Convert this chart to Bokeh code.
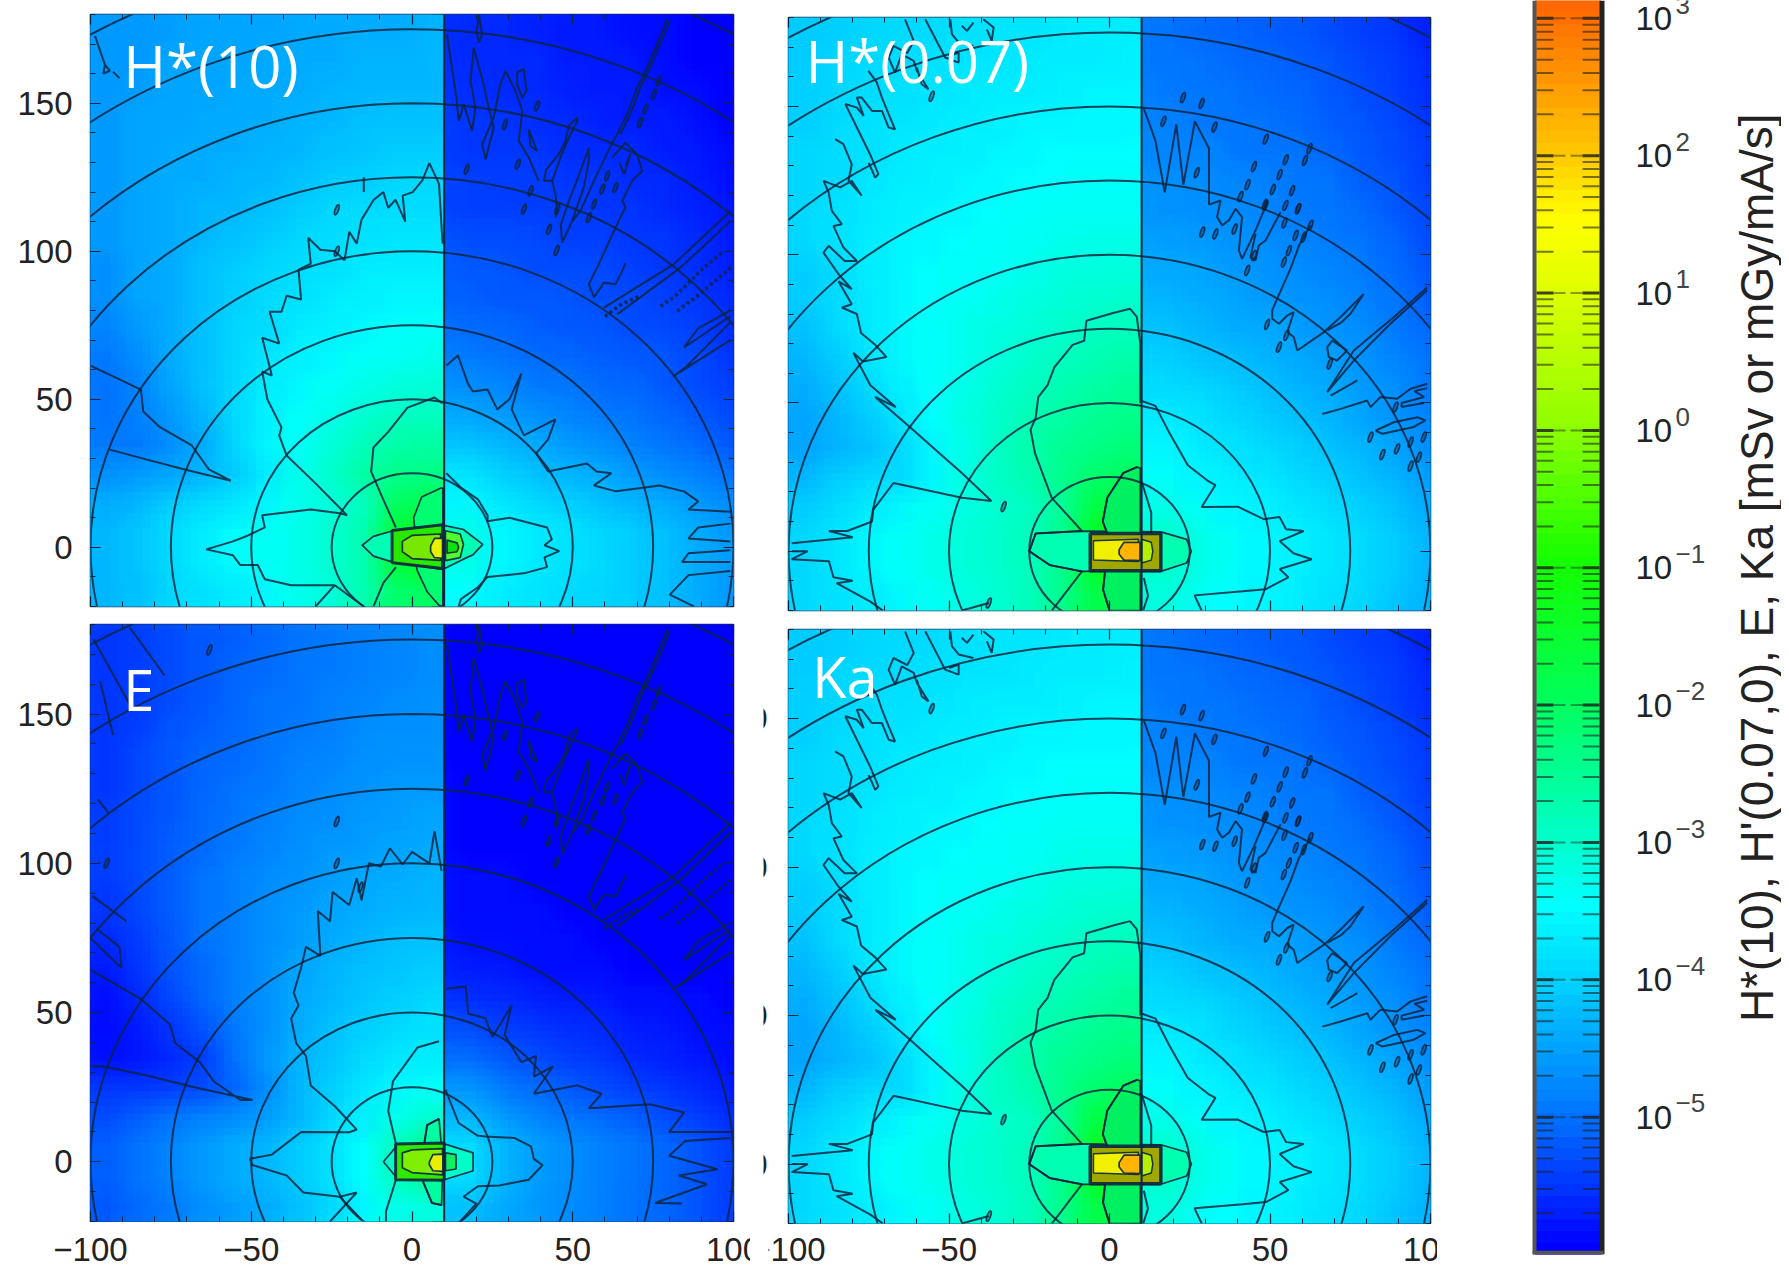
from bokeh.embed import file_html
from bokeh.resources import INLINE
from bokeh.plotting import figure
from bokeh.layouts import row, column
from bokeh.models import (Range1d, LinearAxis, FixedTicker, LinearColorMapper, ColumnDataSource,
                          PrintfTickFormatter, Spacer)
from bokeh.core.properties import value
import numpy as np

# ---- colour scale: anchors (log10 value, colour)
SCALE_LOG = [-6, -5, -4, -3.5, -3, -2, -1, 0, 1, 1.5, 2, 3, 3.13]
SCALE_RGB = [(0, 0, 255), (0, 120, 255), (0, 216, 255), (0, 255, 255), (0, 255, 200), (0, 255, 90),
             (20, 255, 0), (144, 255, 0), (224, 255, 0), (255, 255, 0), (255, 200, 0), (255, 110, 0), (255, 100, 0)]
BAR_DECADES = [3, 2, 1, 0, -1, -2, -3, -4, -5]
BAR_TITLE = "H*(10), H'(0.07,0), E, Ka [mSv or mGy/mA/s]"
RADII = [25, 50, 75, 100, 125, 150, 175, 200]
X_MAJOR = [-100, -50, 0, 50, 100]
X_LABELS = ["\u2212100", "\u221250", "0", "50", "100"]
Y_MAJOR = [0, 50, 100, 150]
X_MINOR = list(range(-100, 101, 10))
Y_MINOR = list(range(-20, 181, 10))

# ---- log10 field; rows y=175...-15, columns x=-95...5 (left of x=10)
H10_LEFT = [
 [-4.6,-4.6,-4.55,-4.5,-4.5,-4.5,-4.45,-4.4,-4.4,-4.4,-4.35],
 [-4.6,-4.6,-4.5,-4.5,-4.5,-4.45,-4.4,-4.4,-4.35,-4.35,-4.3],
 [-4.6,-4.55,-4.5,-4.5,-4.45,-4.4,-4.4,-4.35,-4.3,-4.3,-4.3],
 [-4.6,-4.5,-4.5,-4.45,-4.4,-4.4,-4.35,-4.3,-4.25,-4.2,-4.2],
 [-4.6,-4.5,-4.45,-4.4,-4.4,-4.35,-4.3,-4.2,-4.15,-4.1,-4.1],
 [-4.6,-4.5,-4.4,-4.4,-4.3,-4.3,-4.2,-4.1,-4.05,-4.0,-4.0],
 [-4.6,-4.5,-4.4,-4.3,-4.3,-4.2,-4.1,-4.0,-3.95,-3.9,-3.9],
 [-4.6,-4.5,-4.4,-4.3,-4.2,-4.1,-4.0,-3.9,-3.85,-3.8,-3.8],
 [-4.7,-4.5,-4.4,-4.2,-4.1,-4.0,-3.9,-3.85,-3.75,-3.7,-3.7],
 [-4.7,-4.5,-4.4,-4.2,-4.05,-3.95,-3.85,-3.75,-3.65,-3.6,-3.6],
 [-4.8,-4.6,-4.4,-4.2,-4.0,-3.9,-3.75,-3.65,-3.55,-3.5,-3.45],
 [-4.9,-4.7,-4.4,-4.2,-4.0,-3.8,-3.65,-3.55,-3.45,-3.4,-3.35],
 [-5.0,-4.8,-4.5,-4.2,-3.95,-3.7,-3.55,-3.45,-3.3,-3.2,-3.15],
 [-5.0,-4.85,-4.6,-4.3,-3.9,-3.65,-3.45,-3.3,-3.1,-3.0,-2.95],
 [-4.9,-4.9,-4.7,-4.4,-4.0,-3.6,-3.4,-3.15,-2.9,-2.75,-2.7],
 [-4.7,-4.6,-4.5,-4.3,-4.1,-3.7,-3.35,-3.05,-2.7,-2.45,-2.4],
 [-4.4,-4.3,-4.1,-3.95,-3.8,-3.6,-3.35,-3.15,-2.9,-2.1,-1.9],
 [-4.3,-4.15,-3.9,-3.7,-3.5,-3.4,-3.3,-3.1,-2.8,-1.7,-1.2],
 [-4.3,-4.15,-3.9,-3.7,-3.5,-3.4,-3.3,-3.1,-2.8,-1.7,-1.3],
 [-4.3,-4.2,-4.0,-3.85,-3.7,-3.55,-3.35,-3.15,-2.8,-2.2,-2.1],
]
# rows y=175...-15, columns x=15...95 (right of x=10)
H10_RIGHT = [
 [-5.6,-5.6,-5.65,-5.7,-5.75,-5.8,-5.85,-5.9,-5.95],
 [-5.6,-5.6,-5.6,-5.7,-5.7,-5.75,-5.85,-5.9,-5.95],
 [-5.55,-5.6,-5.6,-5.65,-5.7,-5.7,-5.8,-5.85,-5.9],
 [-5.5,-5.5,-5.55,-5.6,-5.65,-5.7,-5.7,-5.8,-5.9],
 [-5.5,-5.5,-5.5,-5.55,-5.6,-5.6,-5.7,-5.75,-5.85],
 [-5.4,-5.45,-5.45,-5.5,-5.5,-5.6,-5.6,-5.7,-5.8],
 [-5.4,-5.4,-5.4,-5.45,-5.5,-5.5,-5.6,-5.65,-5.75],
 [-5.3,-5.3,-5.35,-5.4,-5.4,-5.5,-5.5,-5.6,-5.7],
 [-5.2,-5.25,-5.3,-5.3,-5.35,-5.4,-5.5,-5.55,-5.65],
 [-5.15,-5.2,-5.2,-5.25,-5.3,-5.35,-5.4,-5.5,-5.6],
 [-5.05,-5.1,-5.15,-5.2,-5.25,-5.3,-5.35,-5.4,-5.55],
 [-4.9,-5.0,-5.05,-5.1,-5.15,-5.2,-5.25,-5.35,-5.5],
 [-4.75,-4.8,-4.9,-4.95,-5.05,-5.1,-5.2,-5.3,-5.4],
 [-4.5,-4.6,-4.7,-4.8,-4.9,-5.0,-5.1,-5.2,-5.3],
 [-4.2,-4.3,-4.45,-4.6,-4.7,-4.85,-4.95,-5.05,-5.2],
 [-3.85,-4.05,-4.2,-4.35,-4.45,-4.6,-4.75,-4.85,-5.0],
 [-3.6,-3.8,-3.95,-4.05,-4.2,-4.3,-4.45,-4.6,-4.75],
 [-3.3,-3.55,-3.75,-3.85,-4.0,-4.1,-4.25,-4.4,-4.6],
 [-3.3,-3.55,-3.75,-3.85,-3.95,-4.1,-4.2,-4.4,-4.55],
 [-3.5,-3.7,-3.8,-3.9,-4.0,-4.1,-4.25,-4.4,-4.6],
]
H007_LEFT = [
 [-4.1,-4.05,-4.0,-3.95,-3.9,-3.85,-3.8,-3.8,-3.75,-3.7,-3.7],
 [-4.1,-4.0,-3.95,-3.9,-3.85,-3.8,-3.8,-3.75,-3.7,-3.7,-3.65],
 [-4.05,-4.0,-3.9,-3.85,-3.8,-3.75,-3.7,-3.7,-3.65,-3.6,-3.6],
 [-4.05,-3.95,-3.85,-3.8,-3.75,-3.7,-3.65,-3.6,-3.6,-3.55,-3.55],
 [-4.0,-3.9,-3.85,-3.75,-3.7,-3.65,-3.6,-3.55,-3.5,-3.5,-3.5],
 [-4.0,-3.9,-3.8,-3.7,-3.65,-3.6,-3.55,-3.5,-3.5,-3.45,-3.45],
 [-4.0,-3.85,-3.75,-3.65,-3.6,-3.55,-3.5,-3.45,-3.4,-3.4,-3.4],
 [-4.0,-3.85,-3.7,-3.6,-3.55,-3.5,-3.45,-3.4,-3.35,-3.3,-3.3],
 [-4.05,-3.9,-3.7,-3.6,-3.5,-3.45,-3.4,-3.35,-3.25,-3.2,-3.2],
 [-4.1,-3.9,-3.75,-3.6,-3.5,-3.4,-3.35,-3.25,-3.15,-3.1,-3.05],
 [-4.2,-3.95,-3.75,-3.6,-3.45,-3.35,-3.25,-3.15,-3.05,-2.95,-2.9],
 [-4.3,-4.1,-3.8,-3.6,-3.45,-3.35,-3.2,-3.05,-2.95,-2.85,-2.75],
 [-4.4,-4.2,-3.95,-3.65,-3.5,-3.3,-3.1,-2.95,-2.8,-2.7,-2.6],
 [-4.5,-4.3,-4.1,-3.8,-3.5,-3.25,-3.05,-2.85,-2.65,-2.55,-2.45],
 [-4.5,-4.35,-4.2,-3.95,-3.6,-3.3,-3.0,-2.75,-2.55,-2.4,-2.3],
 [-4.3,-4.1,-4.0,-3.95,-3.6,-3.25,-3.0,-2.8,-2.5,-2.2,-2.05],
 [-4.1,-3.9,-3.75,-3.6,-3.4,-3.25,-3.1,-2.95,-2.6,-1.85,-1.65],
 [-4.0,-3.8,-3.6,-3.45,-3.3,-3.15,-3.05,-2.9,-2.5,-1.5,-1.0],
 [-4.0,-3.8,-3.6,-3.45,-3.3,-3.15,-3.05,-2.9,-2.5,-1.5,-1.1],
 [-4.0,-3.85,-3.7,-3.55,-3.4,-3.25,-3.1,-2.9,-2.5,-1.9,-1.7],
]
H007_RIGHT = [
 [-5.0,-5.05,-5.1,-5.15,-5.2,-5.3,-5.4,-5.5,-5.65],
 [-4.95,-5.0,-5.05,-5.1,-5.15,-5.25,-5.35,-5.45,-5.6],
 [-4.9,-4.95,-5.0,-5.05,-5.1,-5.2,-5.3,-5.4,-5.55],
 [-4.85,-4.9,-4.95,-5.0,-5.05,-5.15,-5.25,-5.35,-5.5],
 [-4.8,-4.8,-4.9,-4.95,-5.0,-5.1,-5.2,-5.3,-5.45],
 [-4.7,-4.75,-4.8,-4.85,-4.95,-5.0,-5.15,-5.25,-5.4],
 [-4.65,-4.7,-4.75,-4.8,-4.9,-4.95,-5.05,-5.2,-5.35],
 [-4.55,-4.6,-4.65,-4.75,-4.8,-4.9,-5.0,-5.1,-5.3],
 [-4.45,-4.5,-4.6,-4.65,-4.75,-4.8,-4.9,-5.05,-5.2],
 [-4.35,-4.4,-4.5,-4.6,-4.65,-4.75,-4.85,-4.95,-5.15],
 [-4.2,-4.3,-4.4,-4.45,-4.55,-4.65,-4.75,-4.9,-5.05],
 [-4.05,-4.15,-4.25,-4.35,-4.45,-4.55,-4.65,-4.8,-5.0],
 [-3.9,-4.0,-4.1,-4.2,-4.35,-4.45,-4.6,-4.7,-4.9],
 [-3.75,-3.85,-4.0,-4.1,-4.2,-4.35,-4.5,-4.65,-4.8],
 [-3.6,-3.75,-3.85,-3.95,-4.05,-4.2,-4.35,-4.5,-4.7],
 [-3.45,-3.6,-3.7,-3.8,-3.95,-4.05,-4.2,-4.35,-4.55],
 [-3.3,-3.45,-3.55,-3.65,-3.8,-3.9,-4.05,-4.2,-4.4],
 [-3.05,-3.3,-3.45,-3.55,-3.65,-3.8,-3.95,-4.1,-4.3],
 [-3.05,-3.3,-3.45,-3.55,-3.65,-3.8,-3.95,-4.1,-4.3],
 [-3.2,-3.4,-3.5,-3.6,-3.7,-3.85,-4.0,-4.15,-4.35],
]
E_LEFT = [
 [-5.5,-5.4,-5.3,-5.2,-5.15,-5.05,-5.0,-4.9,-4.85,-4.8,-4.75],
 [-5.5,-5.4,-5.3,-5.2,-5.1,-5.05,-4.95,-4.9,-4.85,-4.8,-4.75],
 [-5.5,-5.4,-5.3,-5.2,-5.1,-5.0,-4.95,-4.85,-4.8,-4.75,-4.7],
 [-5.5,-5.4,-5.25,-5.15,-5.05,-5.0,-4.9,-4.85,-4.75,-4.7,-4.7],
 [-5.5,-5.35,-5.2,-5.1,-5.05,-4.95,-4.85,-4.8,-4.7,-4.65,-4.65],
 [-5.5,-5.35,-5.2,-5.1,-5.0,-4.9,-4.8,-4.75,-4.65,-4.6,-4.6],
 [-5.45,-5.3,-5.2,-5.05,-4.95,-4.85,-4.75,-4.7,-4.6,-4.55,-4.5],
 [-5.4,-5.3,-5.15,-5.05,-4.9,-4.8,-4.7,-4.6,-4.55,-4.5,-4.45],
 [-5.45,-5.3,-5.15,-5.0,-4.85,-4.75,-4.65,-4.55,-4.45,-4.4,-4.35],
 [-5.5,-5.35,-5.15,-5.0,-4.85,-4.7,-4.6,-4.5,-4.4,-4.35,-4.3],
 [-5.6,-5.4,-5.2,-5.0,-4.85,-4.7,-4.55,-4.45,-4.35,-4.25,-4.2],
 [-5.7,-5.5,-5.25,-5.05,-4.85,-4.65,-4.5,-4.35,-4.25,-4.15,-4.1],
 [-5.8,-5.6,-5.35,-5.1,-4.85,-4.65,-4.45,-4.3,-4.15,-4.05,-4.0],
 [-5.85,-5.7,-5.5,-5.25,-4.9,-4.65,-4.4,-4.2,-4.05,-3.95,-3.85],
 [-5.8,-5.75,-5.6,-5.4,-5.0,-4.6,-4.35,-4.15,-3.95,-3.8,-3.7],
 [-5.5,-5.5,-5.4,-5.3,-5.1,-4.7,-4.3,-4.05,-3.8,-3.6,-3.45],
 [-5.3,-5.15,-5.0,-4.85,-4.75,-4.55,-4.3,-4.0,-3.65,-3.35,-3.1],
 [-5.15,-5.0,-4.8,-4.6,-4.4,-4.3,-4.1,-3.85,-3.5,-2.9,-2.4],
 [-5.15,-5.0,-4.8,-4.6,-4.4,-4.3,-4.1,-3.85,-3.5,-2.9,-2.5],
 [-5.2,-5.05,-4.9,-4.7,-4.55,-4.4,-4.2,-3.95,-3.6,-3.3,-3.2],
]
E_RIGHT = [
 [-5.95,-5.95,-5.95,-5.95,-5.95,-5.95,-6.0,-6.0,-6.0],
 [-5.95,-5.95,-5.95,-5.95,-5.95,-5.95,-6.0,-6.0,-6.0],
 [-5.95,-5.95,-5.95,-5.95,-5.95,-5.95,-5.95,-6.0,-6.0],
 [-5.95,-5.95,-5.95,-5.95,-5.95,-5.95,-5.95,-6.0,-6.0],
 [-5.95,-5.95,-5.95,-5.95,-5.95,-5.95,-5.95,-6.0,-6.0],
 [-5.9,-5.95,-5.95,-5.95,-5.95,-5.95,-5.95,-5.95,-6.0],
 [-5.9,-5.9,-5.95,-5.95,-5.95,-5.95,-5.95,-5.95,-6.0],
 [-5.9,-5.9,-5.9,-5.95,-5.95,-5.95,-5.95,-5.95,-6.0],
 [-5.85,-5.85,-5.9,-5.9,-5.95,-5.95,-5.95,-5.95,-6.0],
 [-5.85,-5.85,-5.85,-5.9,-5.9,-5.95,-5.95,-5.95,-5.95],
 [-5.8,-5.8,-5.85,-5.85,-5.9,-5.9,-5.95,-5.95,-5.95],
 [-5.7,-5.75,-5.8,-5.85,-5.85,-5.9,-5.9,-5.95,-5.95],
 [-5.55,-5.6,-5.65,-5.7,-5.75,-5.8,-5.8,-5.85,-5.9],
 [-5.3,-5.4,-5.5,-5.55,-5.6,-5.7,-5.75,-5.8,-5.85],
 [-5.05,-5.2,-5.3,-5.4,-5.5,-5.6,-5.65,-5.75,-5.8],
 [-4.65,-4.9,-5.05,-5.2,-5.3,-5.4,-5.5,-5.6,-5.7],
 [-4.3,-4.6,-4.8,-4.95,-5.05,-5.15,-5.3,-5.4,-5.55],
 [-3.95,-4.3,-4.55,-4.7,-4.85,-4.95,-5.1,-5.25,-5.4],
 [-3.95,-4.3,-4.55,-4.7,-4.85,-4.95,-5.1,-5.25,-5.4],
 [-4.2,-4.45,-4.6,-4.75,-4.85,-5.0,-5.1,-5.25,-5.4],
]

# ---- contour lines (x, y in cm)
H10_CONTOURS = [
 [(9.5,102.6),(8.4,122.8),(5.4,129.8),(3.2,124),(0.2,120),(-2.9,118.8),(-2.1,110),(-5.1,117.4),(-7.4,114.7),(-8.9,120),(-11.9,117.4),(-15.7,110.7),(-17.2,102.6),(-19.5,106.6),(-21,97),(-24,100),(-28.5,100.5),(-32.3,104.6),(-31.5,95.8),(-35.3,93.8),(-34.5,83.7),(-39,85),(-40.6,79.6),(-44.3,79.6),(-41.3,68.8),(-46.6,70.8),(-43.6,58),(-46.6,59.4),(-45,50),(-40.6,40.5),(-41.3,37.8),(-39,31),(-30,21.6),(-20.2,10.8),(-22.5,11.5),(-31.5,12.8),(-46.6,10.8),(-45.8,6.7),(-51,4),(-55.7,2),(-64,-0.7),(-55.7,-2.7),(-53.4,-6),(-48,-6),(-45.8,-10.8),(-37.6,-12.8),(-24,-12.8),(-30,-20)],
 [(9.5,48.6),(7,50.6),(-1.4,47.2),(-7.4,39),(-12,33.7),(-12.7,25.6),(-8.9,16),(-5,6.7)],
 [(-5,-6.7),(-8.9,-12),(-12,-20)],
 [(-24,-12.8),(-15,-20)],
 [(10.7,25),(15.2,20.2),(20.5,16.2),(23.5,10.8),(23.5,8.8),(30.3,10),(42,6.7),(43.5,2.7),(41.2,0.7),(45.8,-1.3),(41.2,-3.4),(42,-6.7),(34.8,-8.8),(23.5,-10),(20.5,-13.5),(15.2,-17.5),(14.5,-20)],
 [(10.7,61.4),(14.3,64.8),(17.4,55.3),(18.9,52.6),(23.5,53.3),(26.5,46.6),(30.3,50),(34,58.7),(31,46.6),(34.8,37.8),(44.6,43.2),(42.3,36.4),(38.6,31.7),(42.3,25.6),(54.4,28.3),(57.4,25.6),(62,25),(56.6,20.9),(63.5,18.9),(77,20.9),(84.6,18.9),(89,15.5),(86,12.8),(99,12)],
 [(99,8),(89,6.7),(86,3),(99,2)],
 [(99,-1),(86,-2),(84,-5),(99,-5)],
 [(99,-8),(86,-9.4),(80.2,-16),(87.7,-20)],
 [(-100,61.4),(-84.3,53.3),(-83.6,45.9),(-78.3,40.5),(-68.5,34.4),(-63.2,26.3),(-56.4,22.5),(-70.7,26.3),(-82.7,29.7),(-94,33)],
 [(-98.6,172.8),(-95.5,163),(-94,161),(-96,160),(-95.5,163)],
 [(-93,160.7),(-91,158.5)],
 [(-15,125),(-15,120)],
]
H10_UPPER_RIGHT = [
 [(10.9,173.3),(13.5,154.2),(14.6,144),(16.1,149.7),(18.7,140.7),(19.7,148.5),(18.2,157.5),(19.2,168.8),(22.3,156.4),(22.9,153),(25.4,141.8),(22.9,131.1),(21.8,136.2),(25.4,145.2),(27.5,156.4),(29.1,160.9),(32.2,154.2),(34.3,147.4),(33.2,137.3),(36.3,131.7),(39.4,123.8)],
 [(20.8,180),(21.8,173.3),(20.8,170.5),(20.1,174.4),(20.8,180)],
 [(32.7,160.4),(34.8,161.5),(35.6,154.2),(34.3,151.9),(32.7,156.4),(32.7,160.4)],
 [(36.3,141.2),(38.9,133.9),(36.9,135.6),(36.3,141.2)],
 [(51.4,145.2),(48.8,142.4),(47.7,137.3),(45.7,132.8),(41.8,127.7),(41,123.8),(43.6,123.8),(46.2,131.7),(48.8,138.4),(51.4,144),(51.4,145.2)],
 [(43.6,123.8),(44.6,119.3),(45.2,113.6),(44.6,111.4)],
 [(55,135),(52.4,127.1),(48.8,117),(46.3,109),(46.7,102.9),(49.8,110.2),(53.4,121.5),(55,130.5),(55,135)],
 [(79.4,178.4),(76.2,170),(73.1,162),(70,155.3),(66.9,146.3),(63.8,139.5),(62.3,136.7),(56.6,123.8),(52.4,113.6),(49.8,110.2)],
 [(80.3,178),(77.2,170),(74,162),(71,155.3),(67.9,146.3),(64.8,139.5)],
 [(62.3,131.7),(66.4,136.7),(70,132.8),(71.6,127.2),(68.5,123.8),(65.4,117),(66.4,114.8),(64.3,110.3),(57.6,94.5),(55,88.9),(56.6,84.4),(59.7,89.4),(63.3,88.9),(65.4,93.4),(66.4,96)],
 [(64.5,130),(66,126),(68,133),(66.5,129)],
 [(99.1,113.6),(81.4,95.6),(59.7,81)],
 [(99.1,110.2),(83.5,94.5),(63.8,78.7)],
 [(99,80),(89,74),(84.6,67.5),(99,78)],
 [(99,70),(81.6,58),(85,60.7),(99,76)],
]
H10_BEADS = [
 [(77.3,81.5),(81.4,84.4),(85.6,88.9),(90.8,94.5),(97,100.1)],
 [(82.5,79.8),(90,86),(99.1,94.5)],
 [(60,78),(65,82),(71,85)],
]
H10_BLOBS = [(28.9,142.9),(32.9,129.4),(60.7,125.5),(63.3,121.5),(59.2,121),(56.6,115.9),(55,111.4),(36.9,120.4),(34.8,114.2),(42.6,107.4),(45,100.3),(45.2,114.2),(38.9,149.1),(17,127.7),(71,143.5),(72.6,148),(75.2,153),(76.8,157.5),(-23.4,100),(-23.4,114)]

E_CONTOURS = [
 [(9.2,97.5),(7,110.8),(5.4,100),(0,103.8),(-2.9,99.6),(-6.9,105),(-9.7,98.9),(-13.4,100),(-15.7,87.6),(-17.2,95),(-19.5,86),(-24.7,90.4),(-25.5,80.6),(-29.3,84),(-28.5,69),(-33,72),(-34.5,65),(-36.8,56.6),(-35.3,52.4),(-37.6,48),(-36,39.7),(-33,35.5),(-31.5,25.6),(-24,18.6),(-17.2,10.8),(-19.5,9.9),(-34.5,10),(-43.6,2.4),(-50.4,1),(-49.6,-1.1),(-39,-4.6),(-33.8,-10.3),(-22.5,-11.7),(-17.2,-10.3),(-25.5,-20)],
 [(-22.5,-11.7),(-15.7,-19.4)],
 [(8.4,40.4),(1.7,38.3),(-5.9,27),(-7.4,17),(-5,6)],
 [(-5,-6),(-8.1,-16.6),(-8.1,-20)],
 [(8.4,14.4),(4.7,12.3),(3.9,6.6)],
 [(3.5,-6.8),(6.2,-13.8),(9.2,-14.5)],
 [(10.4,24.2),(14.5,13),(20.5,8.7),(22.8,8.5),(31.8,8),(37,5.2),(37.9,1),(40.6,-1.1),(36.3,-6),(27.3,-7.9),(20.5,-8.2),(16,-11.7),(20,-14),(15,-20)],
 [(10.7,58),(16.7,58.7),(17.5,49.6),(22.8,48.2),(25,41.8),(31,52.4),(28.8,42.5),(34,33.4),(38.6,35.5),(37.9,28.5),(43.9,32),(37.9,22.8),(51.4,25.6),(59,22.8),(55,17.9),(74,19.3),(84.6,16.5),(80,10),(99,10)],
 [(99,8),(85,7),(80,2),(95,-2.5),(83,-4.6),(91.8,-7.5),(75.6,-13.8),(84,-14)],
 [(-100,64.4),(-84.3,54.5),(-75.3,46),(-73.6,39.7),(-66,33.4),(-61.7,27),(-53.4,20.7),(-49.6,20.7),(-67.7,25),(-82.8,29),(-96.4,32),(-100,32)],
 [(-100,75),(-90.4,65),(-91,72),(-98,78)],
 [(-99.4,89),(-88.8,80.6)],
 [(-97.7,121.4),(-94.5,117)],
 [(-99,175),(-87,151.7)],
 [(-87.8,179),(-77,163)],
 [(-97,161),(-93,143)],
]
E_BLOBS = [(-63,171.5),(-95,100),(-16,92)]

P07_CONTOURS = [
 [(-75.1,162),(-72.5,158.1),(-70.9,153),(-68.8,147.4),(-66.8,142.3),(-68.8,142.9),(-70.9,148.5),(-74,148.5),(-77.2,153),(-78.7,153),(-76.6,146.8),(-78.7,149.6),(-82.3,150.8),(-78.7,142.9),(-74.6,133.9),(-72,127.2),(-73,126),(-75,131)],
 [(-85.5,139),(-82.9,137.3),(-80.3,130.5),(-81.3,124.9),(-77.2,119.9),(-80.3,124.9),(-83.9,122.7),(-89.1,124.9),(-87.5,121),(-86.5,114.8),(-83.4,110.3),(-86,109.7),(-82.9,102.4),(-78.7,97.9),(-82.5,97.9),(-87.5,103),(-89.1,100.7),(-84.4,93.4),(-80.3,88.4),(-84.4,91),(-80.3,83.3),(-83.4,82.2),(-78.7,80),(-77.4,73.6),(-73,69.6),(-69.5,65.5),(-76.8,64),(-79.8,66.9),(-74.5,56),(-66.6,48.6),(-73,52),(-62.3,42),(-53,33),(-46,26.4),(-36.8,16.9),(-46,18),(-67.3,23),(-73.6,14),(-74,10),(-81.7,6.8),(-87.4,6.8),(-80,4.7),(-99,2.7)],
 [(-99,0),(-94,0),(-99,-2.7),(-87.4,-3.4),(-86,-8.8),(-80,-10),(-85,-10.8),(-74.5,-17),(-70.6,-20)],
 [(-46,-20),(-37.6,-17.5)],
 [(-63.7,179.4),(-61,172.1),(-63,168),(-67.3,170.4),(-68.8,166.5),(-66.8,161.4),(-64.7,167.6),(-61,165.4),(-60,162),(-56.4,155.8),(-58.5,157.5),(-60,163)],
 [(-57.4,179.4),(-51.2,166.5),(-47,164.8),(-47,168.2),(-50,167)],
 [(-49.6,179.4),(-49.1,174.4),(-47,171.6),(-42.4,170.4)],
 [(-39.3,179.4),(-36.1,176.6),(-36.7,172.1),(-38.2,176)],
 [(-46,177.2),(-44.4,175.5),(-42.4,178.3)],
 [(6.4,81.8),(1.4,80.4),(-7.2,77.7),(-7.9,71),(-11.5,69.6),(-17.2,62),(-19.3,56),(-22.2,52),(-23,45),(-24.6,41),(-23.2,33),(-18,18),(-8.6,6.8),(-23,6),(-25,0),(-18.6,-4.7),(-8.6,-6.8),(-15.8,-17),(-18,-20)],
 [(6.4,81.8),(8.5,79),(9.6,70),(9.6,50)],
 [(8.6,28.4),(4.3,26.4),(-0.7,18),(-2.1,10),(-0.7,6)],
 [(-1.4,-6.8),(-2,-13),(0,-20)],
 [(10,23.6),(13,13),(13,6)],
 [(10.7,-9),(12,-15),(10.5,-20)],
 [(10,50.7),(14.3,49),(18.6,40),(24.4,29),(30.8,23.6),(33,22.3),(28.7,14.9),(40,15),(48,10.8),(53,11.5),(55,7.4),(60.5,6.8),(53,3.4),(57.3,-0.7),(63,-2.7),(53,-6),(55.7,-8.8),(48.7,-12.8),(41.5,-13.5),(26.5,-14.9),(28.7,-20)],
 [(10.7,149.3),(14.3,138.5),(17.2,121),(20.8,143.9),(23,123.6),(26.6,145),(31,135.8),(31,116.9),(34.6,118.3),(33.5,112.7),(35.1,109.9),(37.2,111.6),(39.3,115.5),(41.3,112.7),(40.3,101.4),(41.3,98.6),(45,107),(48.1,114.9),(49.1,118.3)],
 [(53.3,114.4),(48.6,104.8),(46.5,103.1),(45.5,98.1),(43.9,99.2),(45.5,107)],
 [(62.6,109.9),(59,103),(56.4,95.3),(52.2,85.1),(50.7,81.2),(50.7,78.4),(52.8,76.7),(55.4,79.5),(57.4,80.6),(55.4,73.9),(57.4,72.2),(58.5,67.7),(66.8,73.9),(72,79),(79.2,86.8),(75,80),(72,77),(67.8,74.5)],
 [(99,89),(88.6,79),(76.1,67.7),(67.8,53.7),(76.1,64.3),(87.5,76.7),(99,88)],
 [(67.8,68.8),(69.4,71),(74,67.7),(70.9,64.3),(68.3,65.5),(67.8,68.8)],
 [(66.3,46.3),(72,48),(80.3,50.8),(81.3,48.6),(84.4,52),(89.6,51.4),(93.8,54.8),(99,56.5)],
 [(68.9,52.5),(73,55),(77.2,57.6)],
 [(99,55),(95,54),(98,52),(91,50),(91,48.6),(98,50)],
 [(82.9,40.7),(88.6,43.5),(95.9,45.2),(98.4,44.1),(94.8,41.9),(85,39.6),(82.9,40.7)],
]
P07_BLOBS = [(22.9,153),(28.7,151),(16.8,145),(32.7,143),(27.2,127.7),(40.8,119.6),(43,123.6),(45,129.7),(48.7,139),(48.4,117),(50.9,122),(53,127),(54.9,132),(60.9,131.8),(62.3,135.8),(56.9,121.6),(58.7,115.5),
 (54.5,110.7),(58,106.5),(60.5,105.9),(55.9,101.4),(54.3,97.5),(62.6,109.9),(58.8,115.5),(54.8,116.6),(48.6,116.6),(39,108.7),(33,107),(28.9,107.6),(45,99.7),(42.9,94.7),(49.1,76.5),(55.1,72.8),(52.8,68.8),(68.6,63.2),
 (81.3,38.5),(89.6,34.5),(85,32.6),(93.8,36.8),(97.9,38.5),(93.8,28.7),(96.4,31.7),(89.1,48.6),(-55.4,153.4),(-33,15),(-37.6,-17.5)]

# ---- centre: filled contour bands (polygon, colour, outline width)
H10_HOT = [
 ([(9,20),(3,17),(0.5,10),(1,5),(1,-5),(1.7,-8),(4.7,-15),(8.4,-19.6),(9.6,-20),(9.6,20)], "#00ff70", 1.7),
 ([(-15.5,0.7),(-12,3.7),(-6.2,5.5),(9.5,7.5),(16,6),(22,1),(19,-2.5),(16,-4),(9.5,-7.5),(-6,-5),(-12,-3)], "#00ffb4", 1.7),
 ([(-6.2,5.7),(9.5,7.6),(9.5,-7.2),(-6.2,-5.2)], "#28e800", 3.0),
 ([(10.4,5.6),(15,4.5),(16,1),(15,-3.5),(10.4,-4.5)], "#50ff30", 1.7),
 ([(-3,2),(0,4),(8.9,4.5),(8.9,-4.4),(0,-3.8),(-3,-1.5)], "#78e800", 1.7),
 ([(10.9,2.4),(14,1.5),(14.5,0),(14,-1.5),(10.9,-2)], "#10e010", 1.7),
 ([(5.8,0.5),(7,3),(9.5,3),(9.5,-3.7),(7,-3.5),(5.8,-1.5)], "#e6f000", 1.7),
]
E_HOT = [
 ([(8.4,14.4),(4.7,12.3),(3.9,6.6),(3.5,-6.8),(6.2,-13.8),(9.2,-14.5),(9.6,0)], "#00ffa0", 1.7),
 ([(-8.9,0),(-5,5),(10,6),(19,3),(19,-3),(10,-6),(-5,-5)], "#00ffc8", 1.7),
 ([(-5.1,6),(10,6.3),(10,-6.2),(-5.1,-6)], "#30e800", 3.0),
 ([(-3,3),(0,4),(9.5,4.4),(9.5,-4.4),(0,-3.6),(-3,-2)], "#7fee00", 1.7),
 ([(10.4,3),(13.7,2.4),(13.7,-2.4),(10.4,-3)], "#10f060", 1.7),
 ([(5.4,0),(6.5,2.4),(9.6,2.6),(9.6,-3.2),(6.5,-3),(5.4,-1)], "#e6f000", 1.7),
]
P07_HOT = [
 ([(-25,0),(-23,6),(-8.6,6.8),(16,6.5),(24,4),(25.5,0),(24,-4),(16,-6.8),(-8.6,-6.8),(-18.6,-4.7)], "#00ffb0", 1.7),
 ([(8.6,28.4),(4.3,26.4),(-0.7,18),(-2.1,10),(-0.7,6),(-1.4,-6.8),(-2,-13),(0,-20),(9.6,-20),(9.6,28)], "#00f060", 1.7),
 ([(-6,6),(16,6),(16,-6.6),(-6,-6.6)], "#a0a800", 3.5),
 ([(-5,3.5),(9,4),(9,-3.5),(-5,-3)], "#f0f000", 1.5),
 ([(10,4),(13,3),(13.5,0),(13,-3),(10,-4)], "#b4f000", 1.5),
 ([(3,0.5),(4.5,3),(9.5,3),(9.5,-3.2),(4.5,-3),(3,-1)], "#ffb400", 1.7),
]

LINE = "#0a2540"
FONT = "Liberation Sans"
INK = "#222222"
NO_LABEL = PrintfTickFormatter(format="")
STEPS = [-3.75, -1.25, 1.25, 3.75]     # layers of the field, so that its 10 cm cells blend
STEPS_R = [0, 2.5, 5, 7.5]


def lerp_palette():
    logs = np.linspace(SCALE_LOG[0], SCALE_LOG[-1], 256)
    rgb = [np.interp(logs, SCALE_LOG, [c[i] for c in SCALE_RGB]) for i in range(3)]
    return ["#%02x%02x%02x" % (int(r), int(g), int(b)) for r, g, b in zip(*rgb)]


PALETTE = lerp_palette()
mapper = LinearColorMapper(palette=PALETTE, low=SCALE_LOG[0], high=SCALE_LOG[-1])


def field(p, table, x0, width, steps):
    arr = np.array(table, dtype=float)[::-1]
    p.image(image=[arr], x=x0, y=-20, dw=width, dh=200, color_mapper=mapper)
    i = 1
    for dx in steps:
        for dy in STEPS:
            i += 1
            p.image(image=[arr], x=x0 + dx, y=-20 + dy, dw=width, dh=200, color_mapper=mapper, global_alpha=1.0 / i)


def panel(left, right, contours, beads, blobs, hot, fw, fh, bl, br, bt, bb, ylabels=False):
    p = figure(frame_width=fw, frame_height=fh, x_range=Range1d(-100, 100), y_range=Range1d(-20, 180),
               toolbar_location=None, output_backend="svg", x_axis_location=None, y_axis_location=None,
               min_border_left=bl, min_border_right=br, min_border_top=bt, min_border_bottom=bb,
               background_fill_color="#00d8ff", border_fill_color="white")
    p.grid.visible = False
    p.outline_line_color = "#1a2f55"
    p.outline_line_width = 1.5
    field(p, left, -100, 110, STEPS)
    field(p, right, 10, 90, STEPS_R)
    for poly, col, lw in hot:
        p.patch([q[0] for q in poly], [q[1] for q in poly], fill_color=col, line_color=LINE, line_width=lw, line_alpha=0.9)
    p.multi_line(xs=[[q[0] for q in c] for c in contours], ys=[[q[1] for q in c] for c in contours],
                 line_color=LINE, line_width=2.0, line_alpha=0.85)
    if beads:
        p.multi_line(xs=[[q[0] for q in c] for c in beads], ys=[[q[1] for q in c] for c in beads],
                     line_color=LINE, line_width=3.5, line_alpha=0.85, line_dash="3 3")
    src = ColumnDataSource(dict(x=[b[0] for b in blobs], y=[b[1] for b in blobs]))
    p.ellipse(x="x", y="y", width=1.1, height=3.6, angle=-0.35, source=src, fill_color=LINE, fill_alpha=0.35,
              line_color=LINE, line_width=1.6, line_alpha=0.85)
    p.ellipse(x=[0] * len(RADII), y=[0] * len(RADII), width=[2 * r for r in RADII], height=[2 * r for r in RADII],
              fill_alpha=0, line_color=LINE, line_width=2.0, line_alpha=0.85)
    p.segment(x0=[10], y0=[-20], x1=[10], y1=[180], line_color=LINE, line_width=2.0)
    for loc, labelled, ticks, minor in (("below", False, X_MAJOR, X_MINOR), ("above", False, X_MAJOR, X_MINOR),
                                        ("left", ylabels, Y_MAJOR, Y_MINOR), ("right", False, Y_MAJOR, Y_MINOR)):
        ax = LinearAxis(ticker=FixedTicker(ticks=ticks, minor_ticks=minor))
        ax.axis_line_color = None
        ax.major_tick_line_color = LINE
        ax.minor_tick_line_color = LINE
        ax.major_tick_in, ax.major_tick_out = 10, 0
        ax.minor_tick_in, ax.minor_tick_out = 5, 0
        ax.major_tick_line_width = 1.2
        ax.minor_tick_line_width = 1.0
        ax.major_label_text_font = FONT
        ax.major_label_text_color = INK
        if labelled:
            ax.major_label_text_font_size = "33px"
            ax.major_label_standoff = 18
        else:
            ax.formatter = NO_LABEL
            ax.major_label_text_font_size = "1px"
            ax.major_label_standoff = 0
        p.add_layout(ax, loc)
    return p


def xlabel_strip(x0, x1, width, border_left, height):
    # x tick labels in a band of their own, cut at its ends as in the reference
    s = figure(frame_width=width, frame_height=height, x_range=Range1d(x0, x1), y_range=Range1d(0, 1),
               toolbar_location=None, output_backend="svg", x_axis_location=None, y_axis_location=None,
               min_border_left=border_left, min_border_right=0, min_border_top=0, min_border_bottom=0,
               outline_line_color=None)
    s.grid.visible = False
    s.text(x=X_MAJOR, y=[0.35] * len(X_MAJOR), text=X_LABELS, text_font=value(FONT), text_font_size="33px",
           text_align="center", text_baseline="middle", text_color=INK)
    return s


def tag(p, text, x, y, size):
    p.text(x=[x], y=[y], text=[text], text_color="white", text_font=value("Open Sans"), text_font_size=size,
           text_align="left", text_baseline="alphabetic")


g1 = panel(H10_LEFT, H10_RIGHT, H10_CONTOURS + H10_UPPER_RIGHT, H10_BEADS, H10_BLOBS, H10_HOT, 643, 592, 90, 17, 14, 9, ylabels=True)
tag(g1, "H*(10)", -89.8, 162.7, "58px")
g3 = panel(E_LEFT, E_RIGHT, E_CONTOURS + H10_UPPER_RIGHT, H10_BEADS, H10_BLOBS + E_BLOBS, E_HOT, 643, 597, 90, 17, 9, 1, ylabels=True)
tag(g3, "E", -89.8, 158.5, "56px")
g2 = panel(H007_LEFT, H007_RIGHT, P07_CONTOURS, [], P07_BLOBS, P07_HOT, 642, 593, 20, 7, 17, 9)
tag(g2, "H*(0.07)", -94.7, 165.4, "58px")
g4 = panel(H007_LEFT, H007_RIGHT, P07_CONTOURS, [], P07_BLOBS, P07_HOT, 642, 594, 20, 7, 10, 1)
tag(g4, "Ka", -92.6, 164.5, "56px")
s3 = xlabel_strip(-115.55, 105.29, 710, 40, 41)
s4 = xlabel_strip(-106.23, 102.18, 669, 0, 39)

# the bottom-right panel's y labels are hidden by the panel beside them: only their right edges show
strip = figure(frame_width=5, frame_height=594, x_range=Range1d(0, 5), y_range=Range1d(-20, 180),
               toolbar_location=None, output_backend="svg", x_axis_location=None, y_axis_location=None,
               min_border_left=13, min_border_right=0, min_border_top=10, min_border_bottom=40, outline_line_color=None)
strip.grid.visible = False
strip.text(x=[4] * len(Y_MAJOR), y=Y_MAJOR, text=[str(t) for t in Y_MAJOR], text_font=value(FONT), text_font_size="33px",
           text_align="right", text_baseline="middle", text_color=INK)

# ---- colour bar: frame wide enough to hold its labels and title as text
top = 10 ** 3.13
bar = figure(frame_width=249, frame_height=1254, x_range=Range1d(0, 249), y_range=Range1d(1e-6, top), y_axis_type="log",
             toolbar_location=None, output_backend="svg", x_axis_location=None, y_axis_location=None,
             min_border_left=95, min_border_right=0, min_border_top=0, min_border_bottom=4, outline_line_color=None)
bar.grid.visible = False
n_bands = 106
edges = np.linspace(-6, 3.13, n_bands + 1)
band_cols = [PALETTE[min(255, int((e - SCALE_LOG[0]) / (SCALE_LOG[-1] - SCALE_LOG[0]) * 256))] for e in edges[:-1]]
bar.quad(left=3, right=68, bottom=10.0 ** edges[:-1], top=10.0 ** edges[1:], fill_color=band_cols, line_color=band_cols)
major = [10.0 ** k for k in range(-5, 4)]
minor = [m * 10.0 ** k for k in range(-6, 3) for m in range(2, 10)]
for x0, x1 in ((4, 21), (50, 67)):
    bar.segment(x0=x0, x1=x1, y0=minor, y1=minor, line_color=INK, line_alpha=0.6, line_width=2)
    bar.segment(x0=x0, x1=x1, y0=major, y1=major, line_color=INK, line_alpha=0.85, line_width=3)
for x0, x1 in ((21, 33), (38, 50)):
    bar.segment(x0=x0, x1=x1, y0=major, y1=major, line_color=INK, line_alpha=0.45, line_width=2)
bar.segment(x0=[1.5], x1=[1.5], y0=[1e-6], y1=[top], line_color="#555555", line_width=5)
bar.segment(x0=[69.5], x1=[69.5], y0=[1e-6], y1=[top], line_color="#222222", line_width=5)
bar.segment(x0=[0], x1=[71], y0=[1.02e-6], y1=[1.02e-6], line_color="#555555", line_width=5)
tick_text = ["10"] * len(BAR_DECADES)
tick_pos = [10.0 ** k for k in BAR_DECADES]
bar.text(x=[103] * len(tick_pos), y=tick_pos, text=tick_text, text_font=value(FONT), text_font_size="33px",
         text_align="left", text_baseline="middle", text_color=INK)
bar.text(x=[143] * len(tick_pos), y=[10.0 ** (k + 0.1) for k in BAR_DECADES],
         text=[str(k).replace("-", "\u2212") for k in BAR_DECADES], text_font=value(FONT), text_font_size="26px",
         text_align="left", text_baseline="middle", text_color="#444444")
bar.text(x=[224], y=[0.1], text=[BAR_TITLE], angle=[np.pi / 2], text_font=value(FONT), text_font_size="46px",
         text_align="center", text_baseline="middle", text_color=INK)

page = row(column(g1, g3, row(s3, spacing=0), spacing=0), column(Spacer(width=18, height=619), strip, spacing=0),
           column(g2, g4, row(s4, spacing=0), spacing=0), bar, spacing=0)
open("out.html", "w").write(file_html(page, INLINE))
